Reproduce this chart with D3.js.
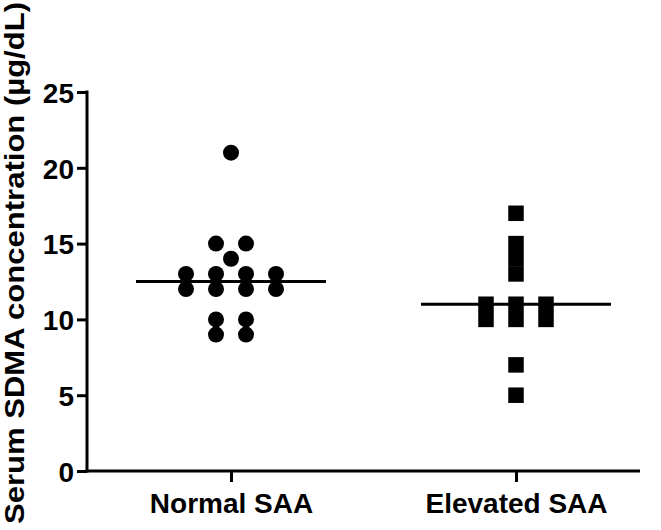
<!DOCTYPE html>
<html>
<head>
<meta charset="utf-8">
<script src="https://cdn.jsdelivr.net/npm/d3@7"></script>
<style>
	body { margin: 0; background: #fff; }
	svg { display: block; }
	text { font-family: "Liberation Sans", Arial, sans-serif; font-weight: bold; fill: #000; }
</style>
</head>
<body>
<svg width="661" height="530"></svg>
<script>
/*
Data
*/

const groups = ['Normal SAA', 'Elevated SAA'];
const normalValues = [21, 15, 15, 14, 13, 13, 13, 13, 12, 12, 12, 12, 10, 10, 9, 9];
const elevatedValues = [17, 15, 14, 13, 11, 11, 11, 10, 10, 10, 7, 5];
const yTicks = [0, 5, 10, 15, 20, 25];
const yLabel = 'Serum SDMA concentration (\u00B5g/dL)';

var svg = d3.select('svg'),
	width = + svg.attr('width'),
	height = + svg.attr('height');

const axisLeftX = 87;
const axisRight = 640;
const axisBottomY = 471;
const axisTopY = 92;

var y = d3.scaleLinear().domain([0, 25]).range([axisBottomY, axisTopY]);
var x = d3.scalePoint().domain(groups).range([231, 516]);

const spread = 30;   // horizontal step between points sharing a value
const halfLine = 95; // half width of the median line

/*
Axes
*/

var yAxis = svg.append('g')
	.attr('transform', 'translate(' + axisLeftX + ',0)')
	.call(d3.axisLeft(y).tickValues(yTicks).tickSize(10).tickPadding(3).tickSizeOuter(0));
yAxis.select('.domain').remove();
yAxis.selectAll('line').attr('stroke', '#000').attr('stroke-width', 3);
yAxis.selectAll('text')
	.style('font-size', '28px')
	.attr('font-family', null)
	.attr('dy', '0.37em');

var xAxis = svg.append('g')
	.attr('transform', 'translate(0,' + axisBottomY + ')')
	.call(d3.axisBottom(x).tickSize(11).tickPadding(11).tickSizeOuter(0));
xAxis.select('.domain').remove();
xAxis.selectAll('line').attr('stroke', '#000').attr('stroke-width', 3);
xAxis.selectAll('text').style('font-size', '28px').attr('font-family', null);

// axis lines
svg.append('line')
	.attr('x1', axisLeftX).attr('x2', axisLeftX)
	.attr('y1', y(25) - 1.5).attr('y2', axisBottomY + 1.5)
	.attr('stroke', '#000').attr('stroke-width', 3);
svg.append('line')
	.attr('x1', axisLeftX - 1.5).attr('x2', axisRight)
	.attr('y1', axisBottomY).attr('y2', axisBottomY)
	.attr('stroke', '#000').attr('stroke-width', 3);

// y axis title
svg.append('text')
	.attr('transform', 'translate(24,263) rotate(-90)')
	.attr('text-anchor', 'middle')
	.style('font-size', '28px')
	.attr('textLength', 522)
	.attr('lengthAdjust', 'spacingAndGlyphs')
	.text(yLabel);

/*
Spread points sharing a value side by side
*/

function swarm(values, group){
	var counts = d3.rollup(values, v => v.length, d => d);
	var seen = new Map();
	return values.map(function(v){
		var n = counts.get(v);
		var i = seen.get(v) || 0;
		seen.set(v, i + 1);
		return { value: v, cx: x(group) + (i - (n - 1) / 2) * spread, cy: y(v) };
	});
}

var normalPts = swarm(normalValues, groups[0]);
var elevatedPts = swarm(elevatedValues, groups[1]);

svg.append('g').selectAll('circle')
	.data(normalPts)
	.enter().append('circle')
		.attr('cx', d => d.cx)
		.attr('cy', d => d.cy)
		.attr('r', 8)
		.attr('fill', '#000');

const sq = 15.5;
svg.append('g').selectAll('rect')
	.data(elevatedPts)
	.enter().append('rect')
		.attr('x', d => d.cx - sq / 2)
		.attr('y', d => d.cy - sq / 2)
		.attr('width', sq)
		.attr('height', sq)
		.attr('fill', '#000');

/*
Median lines
*/

var medians = [
	{ group: groups[0], value: d3.median(normalValues) },
	{ group: groups[1], value: d3.median(elevatedValues) }
];

svg.append('g').selectAll('line')
	.data(medians)
	.enter().append('line')
		.attr('x1', d => x(d.group) - halfLine)
		.attr('x2', d => x(d.group) + halfLine)
		.attr('y1', d => y(d.value))
		.attr('y2', d => y(d.value))
		.attr('stroke', '#000')
		.attr('stroke-width', 3);
</script>
</body>
</html>
